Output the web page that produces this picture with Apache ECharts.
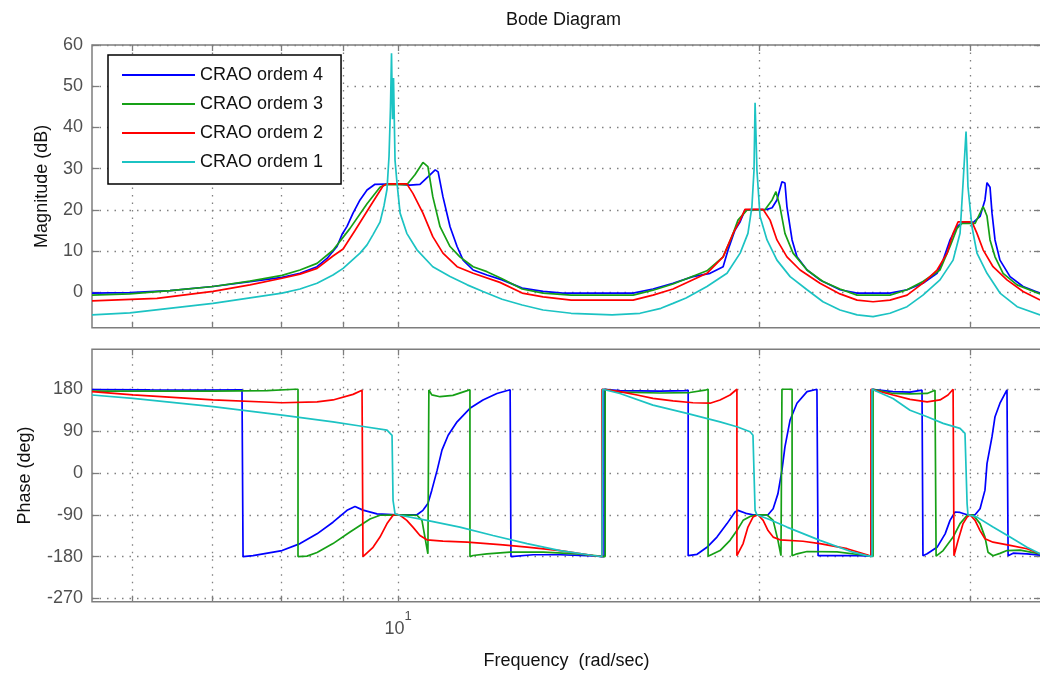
<!DOCTYPE html>
<html>
<head>
<meta charset="utf-8">
<script src="https://cdn.jsdelivr.net/npm/echarts@6/dist/echarts.min.js"></script>
<style>html,body{margin:0;padding:0;background:#fff}#c{width:1040px;height:675px}</style>
</head>
<body>
<div id="c"></div>
<script>
// ---------------- data (frequency in rad/s, magnitude in dB, phase in deg) ----------------
const seriesNames = ['CRAO ordem 4', 'CRAO ordem 3', 'CRAO ordem 2', 'CRAO ordem 1'];
const freqGridTicks = [6, 7, 8, 9, 10, 20, 30];
const freqLabelTicks = [10];
const magTicks = [0, 10, 20, 30, 40, 50, 60];
const phaseTicks = [-270, -180, -90, 0, 90, 180];
const freqRange = [5.559, 34.34];
const magRange = [-8.6, 60];
const phaseRange = [-277, 266];

const magOrdem4 = [[5.559,-0.2],[5.978,-0.1],[6.457,0.4],[7.012,1.4],[7.528,2.6],[8.005,3.6],[8.286,4.6],[8.561,6.2],[8.726,8.2],[8.895,11.1],[8.981,14.0],[9.068,16.0],[9.173,19.2],[9.297,22.4],[9.423,24.8],[9.568,26.2],[9.981,26.3],[10.23,26.0],[10.43,26.2],[10.59,28.0],[10.74,29.7],[10.80,29.2],[10.90,23.2],[11.05,15.9],[11.20,11.1],[11.33,7.8],[11.55,5.4],[11.86,4.2],[12.21,3.0],[12.69,1.0],[13.21,0.2],[13.72,-0.2],[15.70,-0.2],[16.31,0.8],[16.95,2.2],[17.61,3.8],[18.20,4.6],[18.66,6.2],[18.84,10.3],[19.09,15.1],[19.28,17.1],[19.46,20.0],[20.30,20.1],[20.50,20.5],[20.69,22.4],[20.89,26.8],[21.01,26.5],[21.09,20.8],[21.30,12.7],[21.50,8.6],[21.92,5.4],[22.47,3.0],[23.35,0.6],[24.13,-0.2],[25.70,-0.2],[26.56,0.6],[27.38,2.2],[28.13,4.6],[28.46,7.8],[28.84,12.7],[29.23,15.9],[29.51,16.9],[30.14,16.9],[30.55,18.4],[30.84,22.4],[30.96,26.6],[31.14,25.5],[31.26,19.2],[31.44,12.7],[31.74,7.8],[32.36,3.8],[33.18,1.4],[34.28,-0.2]];
const magOrdem3 = [[5.559,-0.7],[5.978,-0.4],[6.457,0.4],[7.012,1.4],[7.528,2.7],[8.005,4.1],[8.286,5.4],[8.561,7.0],[8.827,10.2],[9.120,15.5],[9.423,21.5],[9.660,25.5],[9.754,26.1],[10.17,26.1],[10.33,28.5],[10.49,31.5],[10.59,30.5],[10.69,23.2],[10.84,15.9],[11.05,11.1],[11.26,8.6],[11.55,6.2],[11.86,5.0],[12.21,3.3],[12.69,0.8],[13.21,-0.2],[13.94,-0.7],[15.70,-0.7],[16.31,0.5],[16.95,2.0],[18.09,5.2],[18.66,8.6],[18.98,13.5],[19.20,17.5],[19.54,20.0],[20.22,20.0],[20.50,22.4],[20.65,24.4],[20.81,20.8],[21.01,14.3],[21.34,9.5],[21.92,5.4],[22.60,2.6],[23.35,0.8],[24.13,-0.7],[25.70,-0.7],[26.56,0.6],[27.38,2.6],[28.29,5.4],[28.84,11.1],[29.23,15.5],[29.51,16.7],[30.26,16.7],[30.55,19.2],[30.73,20.8],[30.96,18.5],[31.14,12.7],[31.44,8.6],[31.93,4.6],[32.80,1.8],[34.28,-0.4]];
const magOrdem2 = [[5.559,-2.1],[6.297,-1.5],[7.012,0.2],[7.528,1.8],[8.005,3.4],[8.286,4.4],[8.561,5.8],[8.827,8.8],[9.000,10.5],[9.208,15.0],[9.477,20.8],[9.716,25.8],[9.791,26.3],[10.17,26.3],[10.29,24.0],[10.49,19.2],[10.69,13.5],[10.90,9.5],[11.20,6.2],[11.55,4.6],[12.16,2.4],[12.69,-0.2],[13.21,-1.1],[13.94,-1.9],[15.70,-1.9],[16.31,-0.7],[16.95,0.8],[18.09,4.6],[18.66,8.6],[19.02,14.3],[19.28,17.5],[19.46,20.1],[20.15,20.1],[20.42,17.5],[20.69,12.7],[21.09,8.6],[21.63,5.4],[22.47,2.2],[23.35,-0.4],[24.13,-1.9],[24.88,-2.3],[25.70,-1.9],[26.56,-0.7],[27.38,2.2],[28.13,5.4],[28.68,9.5],[29.01,14.3],[29.29,17.1],[30.08,17.1],[30.37,14.3],[30.73,10.3],[31.32,6.2],[32.17,3.0],[33.18,0.2],[34.28,-1.9]];
const magOrdem1 = [[5.559,-5.5],[5.978,-5.0],[7.012,-2.7],[8.005,-0.2],[8.286,0.8],[8.561,2.2],[8.827,4.2],[9.000,5.8],[9.297,9.5],[9.423,11.5],[9.532,14.0],[9.660,17.0],[9.735,21.0],[9.791,25.0],[9.829,33.0],[9.857,45.0],[9.876,58.0],[9.895,42.0],[9.914,52.0],[9.943,32.0],[9.981,26.5],[10.04,19.2],[10.17,14.3],[10.37,10.3],[10.69,6.2],[11.05,3.8],[11.42,1.8],[11.77,0.2],[12.21,-1.7],[12.69,-3.1],[13.21,-4.3],[13.94,-5.1],[15.08,-5.5],[15.91,-5.1],[16.56,-3.9],[16.95,-2.7],[17.38,-1.4],[18.09,1.4],[18.80,4.6],[19.28,9.5],[19.57,14.3],[19.72,20.8],[19.80,29.7],[19.84,46.0],[19.88,37.0],[19.91,29.7],[20.03,18.4],[20.30,12.7],[20.69,7.8],[21.22,3.8],[21.92,0.6],[22.60,-2.3],[23.35,-4.3],[24.13,-5.5],[24.88,-5.9],[25.70,-5.1],[26.56,-3.5],[27.38,-0.7],[28.29,3.0],[29.01,7.8],[29.40,14.3],[29.57,26.5],[29.74,39.0],[29.80,32.0],[29.85,25.6],[30.08,15.9],[30.37,9.5],[30.96,4.6],[31.74,-0.2],[32.80,-3.5],[34.28,-5.5]];

const phaseOrdem4 = [[5.559,179.5],[6.213,178.5],[6.839,178],[7.413,179],[7.428,-180],[7.572,-178],[8.005,-167],[8.286,-152],[8.561,-131],[8.827,-106],[9.068,-80.5],[9.208,-72],[9.350,-80],[9.605,-88],[9.981,-90],[10.37,-90],[10.49,-80.5],[10.59,-66],[10.67,-37],[10.78,6],[10.88,49],[11.01,81],[11.20,110],[11.48,139],[11.77,157],[12.09,171],[12.40,179],[12.42,-180],[12.96,-176],[13.65,-176],[14.54,-178.5],[14.85,-180],[14.85,180],[15.31,177],[16.53,176],[17.38,177],[17.45,178],[17.45,-178],[17.75,-175],[18.09,-160],[18.44,-138],[18.80,-109],[19.09,-84],[19.20,-80.5],[19.54,-87.7],[19.76,-90],[20.34,-90],[20.54,-77],[20.73,-44.5],[20.89,6],[21.01,56],[21.22,114],[21.50,150],[21.92,175],[22.34,180],[22.39,-178],[23.94,-177.6],[24.78,-179],[24.83,180],[25.85,175],[26.71,174],[27.33,178],[27.38,-178],[27.60,-174],[28.13,-160],[28.57,-131],[28.84,-102],[29.12,-84],[29.40,-85],[29.80,-90],[30.26,-90],[30.55,-77],[30.84,-37],[30.96,20],[31.26,78],[31.44,121],[31.74,150],[32.17,178.5],[32.24,-178],[32.55,-172.7],[33.43,-174],[34.28,-177]];
const phaseOrdem3 = [[5.559,176],[7.012,176],[7.777,177],[8.207,180],[8.254,180],[8.254,-180],[8.398,-179],[8.561,-171],[8.827,-152],[9.120,-127],[9.297,-113],[9.477,-99],[9.660,-91],[9.981,-90],[10.37,-91],[10.47,-102],[10.53,-138],[10.59,-174],[10.61,-178],[10.61,178.5],[10.67,168],[10.84,164],[11.11,167],[11.42,177],[11.48,179],[11.48,-180],[11.55,-177.6],[11.86,-174],[12.40,-170.5],[13.21,-170.5],[14.10,-174],[14.73,-179],[14.88,-180],[14.88,180],[15.31,174],[16.53,172],[17.51,173],[18.02,178],[18.13,180],[18.13,-179],[18.55,-167],[18.91,-145],[19.16,-124],[19.39,-102],[19.65,-93.5],[19.91,-90],[20.30,-90],[20.54,-102],[20.73,-145],[20.85,-178],[20.89,-179],[20.89,180],[21.30,180],[21.30,-178],[21.50,-174],[21.92,-169],[23.22,-170],[24.27,-176],[24.88,-179],[24.88,180],[25.85,171],[26.71,170],[27.60,171],[28.02,178],[28.08,180],[28.08,-179],[28.46,-167],[29.01,-138],[29.40,-109],[29.80,-91],[30.14,-90],[30.55,-109],[30.84,-138],[31.02,-170.5],[31.32,-178],[31.74,-173],[32.17,-167],[32.99,-166],[34.28,-174]];
const phaseOrdem2 = [[5.559,175],[6.014,168],[7.012,157],[8.005,151],[8.561,153],[8.827,157],[9.173,169],[9.333,178],[9.350,180],[9.350,-180],[9.532,-160],[9.660,-138],[9.791,-109],[9.905,-91],[9.981,-89],[10.04,-91],[10.17,-102],[10.29,-116.5],[10.43,-134.5],[10.57,-143.8],[10.90,-146.8],[11.42,-149],[12.23,-154.6],[12.81,-159.7],[13.65,-167],[14.54,-177.6],[14.79,-180],[14.79,180],[15.31,175],[15.82,167.7],[16.31,160.5],[16.95,155],[17.61,151],[18.20,150],[18.55,157],[18.91,167.7],[19.16,180],[19.16,-178],[19.39,-152],[19.57,-116.5],[19.76,-95],[19.95,-90],[20.15,-102],[20.34,-124],[20.54,-138],[20.81,-143.8],[21.75,-147],[22.47,-152],[23.67,-163],[24.59,-176],[24.78,-180],[24.78,180],[25.85,167.7],[26.71,158.4],[27.60,153],[28.29,157],[28.73,167.7],[29.01,180],[29.06,-178],[29.29,-145],[29.57,-109],[29.80,-95],[29.97,-90],[30.26,-102],[30.55,-124],[30.84,-141.7],[31.32,-149],[32.36,-156],[33.43,-163],[34.28,-174]];
const phaseOrdem1 = [[5.559,167.7],[6.014,160.5],[7.012,142.5],[8.005,124.5],[8.827,110],[9.297,101],[9.791,92],[9.886,81],[9.905,-59],[9.943,-88],[10.04,-91],[10.57,-102],[11.26,-116.5],[12.00,-134.5],[12.81,-152],[13.65,-167],[14.54,-177.6],[14.79,-180],[14.81,180],[15.31,171],[16.31,146],[17.41,128],[18.55,110],[19.16,99.3],[19.65,88.5],[19.76,81],[19.84,-80.5],[19.91,-90],[20.42,-100.6],[21.09,-116.5],[22.47,-145],[23.94,-170.5],[24.59,-178],[24.83,-180],[24.83,180],[25.85,160],[26.71,135],[27.60,121],[28.46,106.6],[29.40,95.8],[29.68,85],[29.80,-66],[29.85,-90],[30.37,-95],[31.32,-116.5],[32.36,-138],[33.43,-160],[34.28,-174]];

// ---------------- chart ----------------
const magData = [magOrdem4, magOrdem3, magOrdem2, magOrdem1];
const phaseData = [phaseOrdem4, phaseOrdem3, phaseOrdem2, phaseOrdem1];
const colors = ['#0000ff', '#16a016', '#ff0000', '#1cc3c3'];
const FONT = '"Liberation Sans", Arial, Helvetica, sans-serif';
const AXIS_GRAY = '#7d7d7d';
const TICK_TEXT = '#505050';
const gridLine = { show: true, lineStyle: { color: '#808080', width: 1.3, type: [1.5, 6] } };

function freqAxis(gridIndex, position, withLabel) {
  const ax = {
    type: 'log', logBase: 10, gridIndex: gridIndex, position: position,
    min: freqRange[0], max: freqRange[1],
    axisLine: { show: false, onZero: false },
    axisTick: { show: true, inside: true, length: 6, customValues: freqGridTicks,
                lineStyle: { color: AXIS_GRAY, width: 1.3 } },
    minorTick: { show: false },
    minorSplitLine: { show: false },
    splitLine: position === 'bottom' ? gridLine : { show: false },
    axisLabel: { show: false }
  };
  if (withLabel) {
    ax.axisLabel = {
      show: true, customValues: freqLabelTicks, margin: 8,
      formatter: function (v) { return '{b|10}{s|' + Math.round(Math.log10(v)) + '}'; },
      rich: {
        b: { fontSize: 18, fontFamily: FONT, color: TICK_TEXT, lineHeight: 28, verticalAlign: 'bottom' },
        s: { fontSize: 13, fontFamily: FONT, color: TICK_TEXT, lineHeight: 14, verticalAlign: 'top' }
      }
    };
    ax.name = 'Frequency  (rad/sec)';
    ax.nameLocation = 'middle';
    ax.nameGap = 50;
    ax.nameTextStyle = { fontSize: 18, fontFamily: FONT, color: '#111' };
  }
  return ax;
}

function valAxis(gridIndex, position, range, ticks, name, nameGap) {
  const ax = {
    type: 'value', gridIndex: gridIndex, position: position,
    min: range[0], max: range[1],
    axisLine: { show: false, onZero: false },
    axisTick: { show: true, inside: true, length: 7, customValues: ticks,
                lineStyle: { color: AXIS_GRAY, width: 1.3 } },
    splitLine: position === 'left' ? gridLine : { show: false },
    axisLabel: { show: false }
  };
  if (name) {
    ax.axisLabel = { show: true, customValues: ticks, margin: 9,
                     fontSize: 18, fontFamily: FONT, color: TICK_TEXT };
    ax.name = name;
    ax.nameLocation = 'middle';
    ax.nameGap = nameGap;
    ax.nameTextStyle = { fontSize: 18, fontFamily: FONT, color: '#111' };
  }
  return ax;
}

const series = [];
seriesNames.forEach(function (n, i) {
  series.push({ name: n, type: 'line', xAxisIndex: 0, yAxisIndex: 0, data: magData[i],
    symbol: 'none', showSymbol: false, clip: true,
    lineStyle: { color: colors[i], width: 1.7 }, itemStyle: { color: colors[i] } });
});
seriesNames.forEach(function (n, i) {
  series.push({ name: n, type: 'line', xAxisIndex: 2, yAxisIndex: 2, data: phaseData[i],
    symbol: 'none', showSymbol: false, clip: true,
    lineStyle: { color: colors[i], width: 1.7 }, itemStyle: { color: colors[i] } });
});

const gridBase = { left: 92, width: 949, show: true, borderColor: AXIS_GRAY, borderWidth: 1.5,
                   backgroundColor: '#fff', containLabel: false, outerBoundsMode: 'none' };

const option = {
  animation: false,
  backgroundColor: '#fff',
  title: { text: 'Bode Diagram', left: 501, top: 6,
           textStyle: { fontSize: 18, fontWeight: 'normal', color: '#111', fontFamily: FONT } },
  legend: { data: seriesNames, orient: 'vertical', left: 108, top: 55, icon: 'rect',
            padding: [11, 18, 13, 14], itemGap: 11, itemWidth: 73, itemHeight: 1.8,
            backgroundColor: '#fff', borderColor: '#000', borderWidth: 1.5, selectedMode: false,
            textStyle: { fontSize: 18, color: '#111', fontFamily: FONT } },
  grid: [
    Object.assign({ top: 45, height: 282.7 }, gridBase),
    Object.assign({ top: 349.3, height: 252.4 }, gridBase)
  ],
  xAxis: [freqAxis(0, 'bottom', false), freqAxis(0, 'top', false),
          freqAxis(1, 'bottom', true), freqAxis(1, 'top', false)],
  yAxis: [valAxis(0, 'left', magRange, magTicks, 'Magnitude (dB)', 41), valAxis(0, 'right', magRange, magTicks),
          valAxis(1, 'left', phaseRange, phaseTicks, 'Phase (deg)', 58), valAxis(1, 'right', phaseRange, phaseTicks)],
  series: series
};

const chart = echarts.init(document.getElementById('c'), null, { renderer: 'canvas' });
chart.setOption(option);
</script>
</body>
</html>
